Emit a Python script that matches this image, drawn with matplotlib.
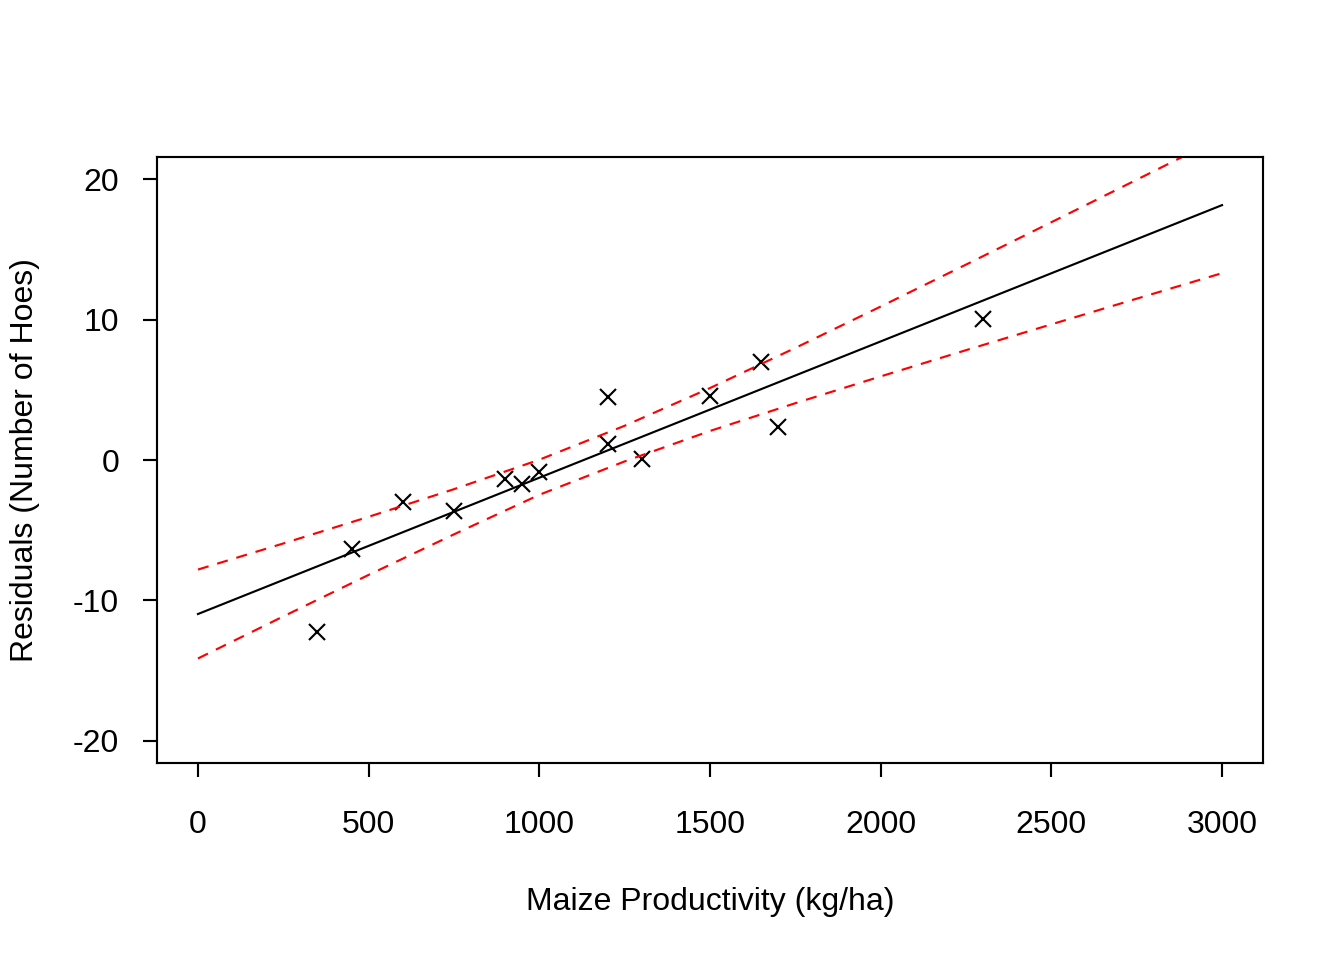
import matplotlib
matplotlib.use("Agg")
import matplotlib.pyplot as plt

plt.rcParams['font.family'] = ['Liberation Sans', 'DejaVu Sans']

# Residual points
prod_x = [350, 450, 600, 750, 900, 950, 1000, 1200, 1200, 1300, 1500, 1650, 1700, 2300]
resid_y = [-12.27, -6.32, -3.01, -3.63, -1.35, -1.71, -0.87, 4.47, 1.14, 0.07, 4.57, 6.97, 2.34, 10.02]

# Fitted line (read at ends)
fit_x = [0, 3000]
fit_y = [-10.98, 18.17]

# Confidence band curves
band_x = [0, 250, 500, 750, 1000, 1250, 1500, 1750, 2000, 2250, 2500, 2750, 3000]
upper_y = [-7.81, -5.95, -4.05, -2.08, 0.02, 2.44, 5.13, 7.99, 10.94, 13.93, 16.95, 19.98, 23.02]
lower_y = [-14.15, -11.15, -8.19, -5.30, -2.48, -0.10, 2.07, 4.05, 5.96, 7.83, 9.67, 11.50, 13.32]

x_ticks = [0, 500, 1000, 1500, 2000, 2500, 3000]
y_ticks = [-20, -10, 0, 10, 20]

fig = plt.figure(figsize=(7, 5), dpi=192)
ax = fig.add_axes([157/1344, 1-763/960, (1263-157)/1344, (763-157)/960])

ax.plot(prod_x, resid_y, linestyle='none', marker='x', color='black',
        markersize=6.3, markeredgewidth=0.8)
ax.plot(fit_x, fit_y, color='black', lw=0.8)
ax.plot(band_x, upper_y, color='red', lw=0.8, linestyle=(0, (5.2, 4.2)))
ax.plot(band_x, lower_y, color='red', lw=0.8, linestyle=(0, (5.2, 4.2)))

ax.set_xlim(-120, 3120)
ax.set_ylim(-21.6, 21.6)
ax.set_xticks(x_ticks)
ax.set_xticklabels([str(t) for t in x_ticks])
ax.set_yticks(y_ticks)
ax.set_yticklabels([str(t) for t in y_ticks])

for s in ax.spines.values():
    s.set_linewidth(0.8)
    s.set_color('black')

ax.tick_params(axis='both', direction='out', length=5.2, width=0.8,
               labelsize=12, colors='black')
ax.tick_params(axis='x', pad=12.5)
ax.tick_params(axis='y', pad=9)

ax.set_xlabel('Maize Productivity (kg/ha)', fontsize=12)
ax.xaxis.label.set_va('center')
ax.xaxis.set_label_coords(0.5, (763-902)/606)
ax.set_ylabel('Residuals (Number of Hoes)', fontsize=12)
ax.yaxis.label.set_va('center')
ax.yaxis.set_label_coords((25-157)/1106, 0.5)

fig.savefig('out.png', dpi=192)
